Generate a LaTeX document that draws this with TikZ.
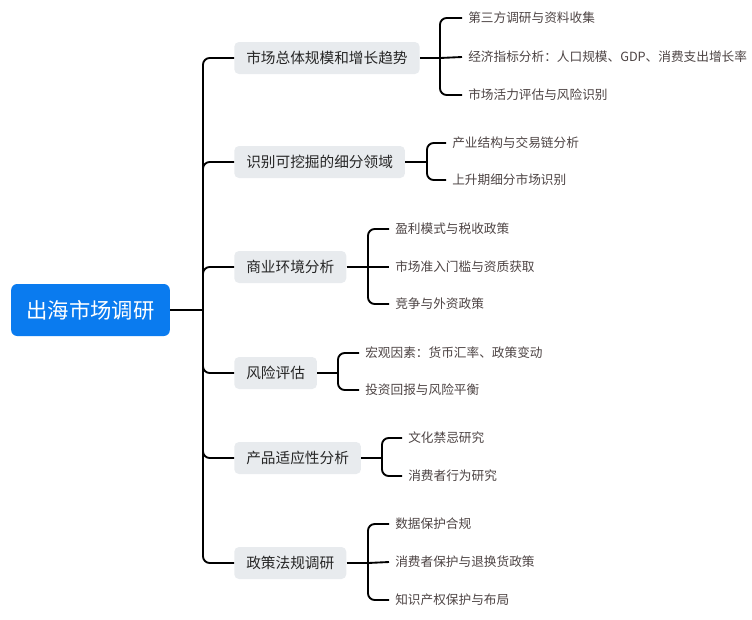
\documentclass[tikz,border=0pt]{standalone}
\usepackage{fontspec}
\setmainfont{Noto Sans CJK SC}
\usetikzlibrary{positioning}
\definecolor{rootblue}{HTML}{0A7BEF}
\definecolor{branchgrey}{HTML}{E8EBEE}
\definecolor{leaftext}{HTML}{4D4444}
\tikzset{
    % root topic
    root/.style={
           rectangle,
           rounded corners=4.5,
           fill=rootblue,
           text=white,
           font=\fontsize{16}{18}\selectfont,
           minimum width=119pt,
           minimum height=39pt},
    % main branches
    branch/.style={
           rectangle,
           rounded corners=3.5,
           fill=branchgrey,
           text=black!85,
           font=\fontsize{11}{13}\selectfont,
           anchor=west,
           inner xsep=9pt,
           minimum height=24pt},
    % leaves
    leaf/.style={
           anchor=west,
           text=leaftext,
           font=\fontsize{9.5}{11}\selectfont,
           inner xsep=4.5pt},
    % connectors
    link/.style={
           line width=1.4pt,
           rounded corners=5pt}
}
\begin{document}
\begin{tikzpicture}[x=0.75pt,y=-0.75pt]
 \useasboundingbox (0,0) rectangle (752,619);

 %Root
 \node[root] (root) at (90.5,310) {出海市场调研};
 \coordinate (trunk) at (203,310);

 %Branches
 \node[branch] (b1) at (234,58) {市场总体规模和增长趋势};
 \node[branch] (b2) at (234,162) {识别可挖掘的细分领域};
 \node[branch] (b3) at (234,267) {商业环境分析};
 \node[branch] (b4) at (234,373) {风险评估};
 \node[branch] (b5) at (234,458) {产品适应性分析};
 \node[branch] (b6) at (234,563) {政策法规调研};

 \draw[link] (root.east) -- (trunk);
 \draw[link] (trunk) |- (b1.west);
 \draw[link] (trunk) |- (b2.west);
 \draw[link] (trunk) |- (b3.west);
 \draw[link] (trunk) |- (b4.west);
 \draw[link] (trunk) |- (b5.west);
 \draw[link] (trunk) |- (b6.west);

 %Leaves of b1
 \coordinate (j1) at (440,58);
 \node[leaf] (l11) at (462,18) {第三方调研与资料收集};
 \node[leaf] (l12) at (462,57) {经济指标分析：人口规模、GDP、消费支出增长率};
 \node[leaf] (l13) at (462,95) {市场活力评估与风险识别};
 \draw[link] (b1.east) -- (j1);
 \draw[link] (j1) |- (l11.west);
 \draw[link] (j1) -- (l12.west);
 \draw[link] (j1) |- (l13.west);

 %Leaves of b2
 \coordinate (j2) at (427,162);
 \node[leaf] (l21) at (446,143) {产业结构与交易链分析};
 \node[leaf] (l22) at (446,180) {上升期细分市场识别};
 \draw[link] (b2.east) -- (j2);
 \draw[link] (j2) |- (l21.west);
 \draw[link] (j2) |- (l22.west);

 %Leaves of b3
 \coordinate (j3) at (368,267);
 \node[leaf] (l31) at (389,229) {盈利模式与税收政策};
 \node[leaf] (l32) at (389,267) {市场准入门槛与资质获取};
 \node[leaf] (l33) at (389,304) {竞争与外资政策};
 \draw[link] (b3.east) -- (j3);
 \draw[link] (j3) |- (l31.west);
 \draw[link] (j3) -- (l32.west);
 \draw[link] (j3) |- (l33.west);

 %Leaves of b4
 \coordinate (j4) at (338,373);
 \node[leaf] (l41) at (359,353) {宏观因素：货币汇率、政策变动};
 \node[leaf] (l42) at (359,390) {投资回报与风险平衡};
 \draw[link] (b4.east) -- (j4);
 \draw[link] (j4) |- (l41.west);
 \draw[link] (j4) |- (l42.west);

 %Leaves of b5
 \coordinate (j5) at (382,458);
 \node[leaf] (l51) at (402,438) {文化禁忌研究};
 \node[leaf] (l52) at (402,476) {消费者行为研究};
 \draw[link] (b5.east) -- (j5);
 \draw[link] (j5) |- (l51.west);
 \draw[link] (j5) |- (l52.west);

 %Leaves of b6
 \coordinate (j6) at (368,563);
 \node[leaf] (l61) at (389,524) {数据保护合规};
 \node[leaf] (l62) at (389,562) {消费者保护与退换货政策};
 \node[leaf] (l63) at (389,600) {知识产权保护与布局};
 \draw[link] (b6.east) -- (j6);
 \draw[link] (j6) |- (l61.west);
 \draw[link] (j6) -- (l62.west);
 \draw[link] (j6) |- (l63.west);
\end{tikzpicture}
\end{document}
